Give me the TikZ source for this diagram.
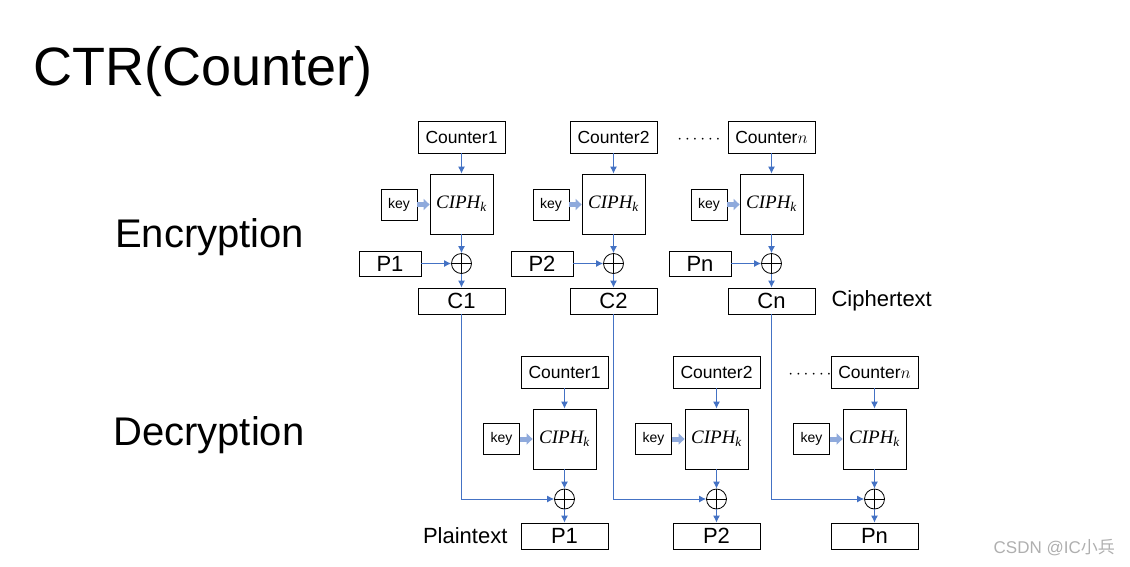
\documentclass[tikz,border=0pt]{standalone}
\usepackage{fontspec}
\setmainfont{Liberation Sans}
\newfontfamily\ciphfont{Liberation Serif}
\newfontfamily\cjkfont{Noto Sans CJK SC}
\usetikzlibrary{arrows.meta, positioning, calc}
\definecolor{flowblue}{RGB}{68, 114, 196}
\definecolor{keyblue}{RGB}{143, 170, 220}
\definecolor{markgray}{RGB}{175, 175, 175}

\begin{document}
\begin{tikzpicture}[
    x=1pt, y=-1pt,
    box/.style={draw, line width=0.8pt, inner sep=0pt},
    ctrbox/.style={box, minimum width=87pt, minimum height=32pt, font=\fontsize{17.5}{20}\selectfont},
    ciphbox/.style={box, minimum width=63pt, minimum height=60pt, font=\fontsize{19}{20}\ciphfont\itshape},
    keybox/.style={box, minimum width=36pt, minimum height=31pt, font=\fontsize{14}{16}\selectfont},
    pbox/.style={box, minimum width=62pt, minimum height=25pt, font=\fontsize{22}{24}\selectfont},
    cbox/.style={box, minimum width=87pt, minimum height=26pt, font=\fontsize{22}{24}\selectfont},
    xor/.style={circle, draw, line width=0.8pt, minimum size=20pt, inner sep=0pt,
        path picture={\draw[line width=0.8pt]
            (path picture bounding box.north) -- (path picture bounding box.south)
            (path picture bounding box.west) -- (path picture bounding box.east);}},
    flow/.style={draw=flowblue, line width=1pt, -{Latex[length=7pt, width=7pt]}},
    keyflow/.style={draw=keyblue, line width=5pt, -{Triangle[length=6pt, width=11pt]}},
    heading/.style={font=\fontsize{40}{44}\selectfont, anchor=base west, inner sep=0pt},
    side/.style={font=\fontsize{22}{24}\selectfont, inner sep=0pt},
    dots/.style={font=\fontsize{19}{20}\selectfont, inner sep=0pt}
]
    \useasboundingbox (0, 0) rectangle (1130, 566);

    % Title and row labels
    \node[heading, font=\fontsize{54}{60}\selectfont] (title) at (33, 85) {CTR(Counter)};
    \node[heading] (enc) at (115, 247) {Encryption};
    \node[heading] (dec) at (113, 445) {Decryption};

    % One encryption column and one decryption column per block
    \foreach \i/\x/\lab in {1/461.5/1, 2/613.5/2, n/771.5/$n$} {
        % encryption
        \node[ctrbox] (ctr\i) at (\x, 137) {Counter\lab};
        \node[ciphbox] (ciph\i) at (\x, 204) {CIPH\textsubscript{k}};
        \node[keybox] (key\i) at (\x - 62.5, 204.5) {key};
        \node[xor] (xor\i) at (\x, 263.5) {};
        \node[pbox] (p\i) at (\x - 71.5, 263.5) {P\i};
        \node[cbox] (c\i) at (\x, 301) {C\i};
        \draw[flow] (ctr\i) -- (ciph\i);
        \draw[keyflow] (key\i.east) -- (key\i.east -| ciph\i.west);
        \draw[flow] (ciph\i) -- (xor\i);
        \draw[flow] (p\i) -- (xor\i);
        \draw[flow] (xor\i) -- (c\i);

        % decryption
        \node[ctrbox] (dctr\i) at (\x + 103, 372) {Counter\lab};
        \node[ciphbox] (dciph\i) at (\x + 103, 439) {CIPH\textsubscript{k}};
        \node[keybox] (dkey\i) at (\x + 40, 439) {key};
        \node[xor] (dxor\i) at (\x + 103, 499) {};
        \node[cbox] (dp\i) at (\x + 103, 536) {P\i};
        \draw[flow] (dctr\i) -- (dciph\i);
        \draw[keyflow] (dkey\i.east) -- (dkey\i.east -| dciph\i.west);
        \draw[flow] (dciph\i) -- (dxor\i);
        \draw[flow] (dxor\i) -- (dp\i);

        % ciphertext feeds the decryption XOR
        \draw[flow] (c\i.south) |- (dxor\i.west);
    }

    % Dots before the n-th counters
    \node[dots] (dotsE) at (699, 140) {$\cdots\cdots$};
    \node[dots] (dotsD) at (810, 375) {$\cdots\cdots$};

    % Side labels
    \node[side, anchor=west, right=16pt of cn] (ctext) {Ciphertext};
    \node[side, anchor=east, left=13pt of dp1] (ptext) {Plaintext};

    % Watermark
    \node[font=\fontsize{17}{20}\selectfont, text=markgray, anchor=east, inner sep=0pt] (mark) at (1115, 548) {CSDN @IC{\cjkfont 小兵}};
\end{tikzpicture}
\end{document}
